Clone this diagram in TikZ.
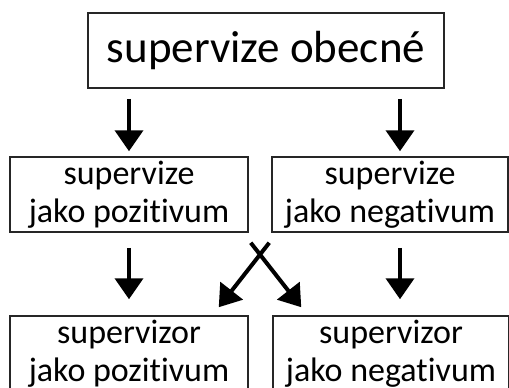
\documentclass[tikz,border=0pt]{standalone}
\usepackage{fontspec}
\setmainfont{Carlito}[Ligatures=NoCommon]
\usetikzlibrary{arrows.meta}

\begin{document}
\begin{tikzpicture}[x=1pt,y=-1pt,
    box/.style={draw=black!85,line width=1.5pt,align=center,inner sep=0pt,minimum height=75pt},
    txt/.style={font=\fontsize{34}{38}\selectfont},
    arr/.style={line width=4pt,-{Triangle[width=28pt,length=21pt]}}]
    \useasboundingbox(0,0)rectangle(509,388);
    \clip(0,0)rectangle(509,388);
    \node[box,minimum width=356pt,font=\fontsize{45}{45}\selectfont](top)at(266,50.5){supervize obecné};
    \node[box,txt,minimum width=238pt](spoz)at(129,194.5){supervize\\jako pozitivum};
    \node[box,txt,minimum width=236pt](sneg)at(390,194.5){supervize\\jako negativum};
    \node[box,txt,minimum width=238pt](rpoz)at(129,353.5){supervizor\\jako pozitivum};
    \node[box,txt,minimum width=236pt](rneg)at(391,353.5){supervizor\\jako negativum};
    % shora dolu
    \draw[arr,shorten <=10pt,shorten >=5pt](top.south-|spoz)--(spoz.north);
    \draw[arr,shorten <=10pt,shorten >=5pt]([xshift=10pt]top.south-|sneg)--([xshift=10pt]sneg.north);
    \draw[arr,shorten <=15pt,shorten >=16pt](spoz)--(rpoz);
    \draw[arr,shorten <=15pt,shorten >=16pt]([xshift=10pt]sneg.south)--([xshift=9pt]rneg.north);
    % krizem
    \draw[arr]([shift={(2,10)}]spoz.south east)--([shift={(29,-8)}]rneg.north west);
    \draw[arr]([shift={(-2,10)}]sneg.south west)--([shift={(-30,-8)}]rpoz.north east);
\end{tikzpicture}
\end{document}
